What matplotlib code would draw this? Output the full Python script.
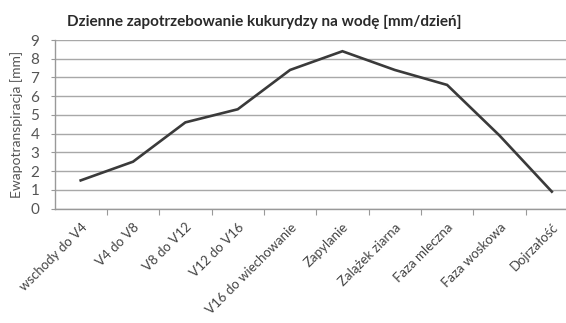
import matplotlib
matplotlib.use("Agg")
import matplotlib.pyplot as plt
import numpy as np

categories = ["wschody do V4", "V4 do V8", "V8 do V12", "V12 do V16",
              "V16 do wiechowanie", "Zapylanie", "Zalążek ziarna",
              "Faza mleczna", "Faza woskowa", "Dojrzałość"]
values = [1.5, 2.5, 4.6, 5.3, 7.4, 8.4, 7.4, 6.6, 3.9, 0.9]
y_ticks = [0, 1, 2, 3, 4, 5, 6, 7, 8, 9]
title = "Dzienne zapotrzebowanie kukurydzy na wodę [mm/dzień]"
y_label = "Ewapotranspiracja [mm]"

plt.rcParams['font.family'] = ['Lato', 'DejaVu Sans']

fig = plt.figure(figsize=(5.66, 3.23), dpi=100)
fig.patch.set_facecolor("white")
ax = fig.add_axes([54.5/566, 114.5/323, (578-54.5)/566, 168.5/323])

x = np.arange(len(categories))
ax.plot(x, values, color="#3a3a3a", lw=1.9, solid_joinstyle="miter", zorder=3)

ax.set_xlim(-0.5, len(categories) - 0.5)
ax.set_ylim(0, 9)
ax.set_yticks(y_ticks)
ax.set_yticklabels([str(t) for t in y_ticks], color="#555555", fontsize=11)
ax.yaxis.grid(True, color="#a8a8a8", lw=1.0)
ax.set_axisbelow(True)

# category boundary ticks
ax.set_xticks(np.arange(0.5, len(categories) - 0.5, 1.0), minor=False)
ax.set_xticklabels([])
ax.set_xticks(x, minor=True)
ax.set_xticklabels(categories, minor=True, rotation=45, ha="right",
                   rotation_mode="anchor", fontsize=9.5, color="#444444")
ax.tick_params(axis="x", which="minor", length=0, pad=9)
ax.tick_params(axis="x", which="major", length=4, color="#999999", direction="out")
ax.tick_params(axis="y", length=3, color="#999999", pad=8)

for s in ["top", "right"]:
    ax.spines[s].set_visible(False)
for s in ["left", "bottom"]:
    ax.spines[s].set_color("#999999")
    ax.spines[s].set_linewidth(1.0)

ax.set_ylabel(y_label, color="#555555", fontsize=10, labelpad=5)

fig.text(264/566, 1 - 22/323, title, ha="center", va="center",
         fontsize=11, fontweight="bold", color="#2a2a2a")

fig.savefig("out.png", dpi=100)
